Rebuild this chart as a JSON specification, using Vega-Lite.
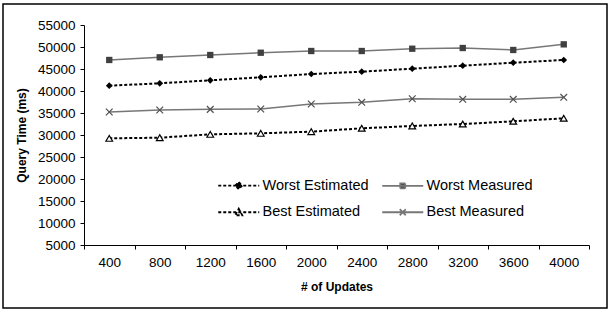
{
  "$schema": "https://vega.github.io/schema/vega-lite/v6.json",
  "width": 604,
  "height": 304,
  "autosize": {"type": "none"},
  "padding": {"left": 3, "top": 4, "right": 2, "bottom": 2},
  "background": "white",
  "config": {
    "view": {"stroke": "black", "strokeWidth": 1.5},
    "font": "Liberation Sans",
    "axis": {"grid": false, "domainColor": "#000", "tickColor": "#000", "labelColor": "#000", "titleColor": "#000", "tickSize": 4, "labelFontSize": 13.5, "titleFontSize": 12, "titleFontWeight": "bold", "labelFont": "Liberation Sans", "titleFont": "Liberation Sans"}
  },
  "data": {"values": [
    {"updates": "400", "series": "Worst Estimated", "time": 41200},
    {"updates": "800", "series": "Worst Estimated", "time": 41750},
    {"updates": "1200", "series": "Worst Estimated", "time": 42430},
    {"updates": "1600", "series": "Worst Estimated", "time": 43110},
    {"updates": "2000", "series": "Worst Estimated", "time": 43860},
    {"updates": "2400", "series": "Worst Estimated", "time": 44390},
    {"updates": "2800", "series": "Worst Estimated", "time": 45070},
    {"updates": "3200", "series": "Worst Estimated", "time": 45750},
    {"updates": "3600", "series": "Worst Estimated", "time": 46430},
    {"updates": "4000", "series": "Worst Estimated", "time": 47050},
    {"updates": "400", "series": "Worst Measured", "time": 47050},
    {"updates": "800", "series": "Worst Measured", "time": 47660},
    {"updates": "1200", "series": "Worst Measured", "time": 48180},
    {"updates": "1600", "series": "Worst Measured", "time": 48700},
    {"updates": "2000", "series": "Worst Measured", "time": 49090},
    {"updates": "2400", "series": "Worst Measured", "time": 49090},
    {"updates": "2800", "series": "Worst Measured", "time": 49610},
    {"updates": "3200", "series": "Worst Measured", "time": 49770},
    {"updates": "3600", "series": "Worst Measured", "time": 49320},
    {"updates": "4000", "series": "Worst Measured", "time": 50600},
    {"updates": "400", "series": "Best Estimated", "time": 29240},
    {"updates": "800", "series": "Best Estimated", "time": 29390},
    {"updates": "1200", "series": "Best Estimated", "time": 30150},
    {"updates": "1600", "series": "Best Estimated", "time": 30380},
    {"updates": "2000", "series": "Best Estimated", "time": 30760},
    {"updates": "2400", "series": "Best Estimated", "time": 31520},
    {"updates": "2800", "series": "Best Estimated", "time": 32050},
    {"updates": "3200", "series": "Best Estimated", "time": 32500},
    {"updates": "3600", "series": "Best Estimated", "time": 33110},
    {"updates": "4000", "series": "Best Estimated", "time": 33800},
    {"updates": "400", "series": "Best Measured", "time": 35230},
    {"updates": "800", "series": "Best Measured", "time": 35680},
    {"updates": "1200", "series": "Best Measured", "time": 35830},
    {"updates": "1600", "series": "Best Measured", "time": 35910},
    {"updates": "2000", "series": "Best Measured", "time": 37050},
    {"updates": "2400", "series": "Best Measured", "time": 37430},
    {"updates": "2800", "series": "Best Measured", "time": 38250},
    {"updates": "3200", "series": "Best Measured", "time": 38110},
    {"updates": "3600", "series": "Best Measured", "time": 38110},
    {"updates": "4000", "series": "Best Measured", "time": 38560}
  ]},
  "encoding": {
    "x": {
      "field": "updates", "type": "ordinal",
      "sort": ["400", "800", "1200", "1600", "2000", "2400", "2800", "3200", "3600", "4000"],
      "bandPosition": 0.5,
      "scale": {"type": "band", "range": [81, 586], "paddingInner": 0, "paddingOuter": 0},
      "axis": {"title": "# of Updates", "orient": "bottom", "offset": -63, "tickBand": "extent", "labelAngle": 0, "labelPadding": 6, "titlePadding": 13}
    },
    "y": {
      "field": "time", "type": "quantitative",
      "scale": {"domain": [5000, 55000], "range": [241, 21], "nice": false, "zero": false},
      "axis": {"title": "Query Time (ms)", "orient": "left", "offset": -81, "values": [5000, 10000, 15000, 20000, 25000, 30000, 35000, 40000, 45000, 50000, 55000], "format": "d", "labelPadding": 5, "titlePadding": 9, "labelFlush": false, "labelOverlap": false}
    }
  },
  "layer": [
    {
      "transform": [{"filter": "indexof(datum.series, 'Estimated') >= 0"}],
      "mark": {"type": "line", "strokeDash": [3, 2], "strokeWidth": 2, "color": "#000000"},
      "encoding": {"detail": {"field": "series", "type": "nominal"}}
    },
    {
      "transform": [{"filter": "indexof(datum.series, 'Measured') >= 0"}],
      "mark": {"type": "line", "strokeWidth": 1.5, "color": "#777777"},
      "encoding": {"detail": {"field": "series", "type": "nominal"}}
    },
    {
      "transform": [{"filter": "datum.series == 'Worst Estimated'"}],
      "mark": {"type": "point", "shape": "diamond", "filled": true, "color": "#000000", "opacity": 1, "size": 45},
      "encoding": {}
    },
    {
      "transform": [{"filter": "datum.series == 'Worst Measured'"}],
      "mark": {"type": "point", "shape": "square", "filled": true, "color": "#404040", "opacity": 1, "size": 40},
      "encoding": {}
    },
    {
      "transform": [{"filter": "datum.series == 'Best Estimated'"}],
      "mark": {"type": "point", "shape": "triangle-up", "filled": false, "fill": "#ffffff", "stroke": "#000000", "strokeWidth": 1.2, "opacity": 1, "size": 45},
      "encoding": {}
    },
    {
      "transform": [{"filter": "datum.series == 'Best Measured'"}],
      "mark": {"type": "point", "shape": "M-1,-1L1,1M-1,1L1,-1", "filled": false, "stroke": "#505050", "strokeWidth": 1.2, "opacity": 1, "size": 45},
      "encoding": {}
    },
    {
      "transform": [{"filter": "datum.time < 0"}],
      "mark": {"type": "point", "opacity": 1, "strokeWidth": 1.8},
      "encoding": {
        "shape": {"field": "series", "type": "nominal",
          "scale": {"domain": ["Worst Estimated", "Worst Measured", "Best Estimated", "Best Measured"], "range": [
            "M-6,0H2.2M-1.9,-0.7L-1.2,0L-1.9,0.7L-2.6,0Z",
            "M-6,0H2.2M-2.4,-0.5H-1.4V0.5H-2.4Z",
            "M-6,0H2.2M-1.9,-0.7L-1.2,0.6H-2.6Z",
            "M-6,0H2.2M-2.5,-0.6L-1.3,0.6M-2.5,0.6L-1.3,-0.6"]},
          "legend": {
            "title": null, "orient": "none", "legendX": 238, "legendY": 174, "direction": "horizontal", "columns": 2, "padding": 0,
            "symbolSize": 100, "symbolStrokeWidth": 1.8, "symbolOpacity": 1, "labelFontSize": 14.5, "labelColor": "#000", "labelFont": "Liberation Sans", "labelOffset": 7, "rowPadding": 11, "columnPadding": 9
          }},
        "fill": {"field": "series", "type": "nominal",
          "scale": {"domain": ["Worst Estimated", "Worst Measured", "Best Estimated", "Best Measured"], "range": ["#000000", "#404040", "#ffffff", "transparent"]}},
        "stroke": {"field": "series", "type": "nominal",
          "scale": {"domain": ["Worst Estimated", "Worst Measured", "Best Estimated", "Best Measured"], "range": ["#000000", "#777777", "#000000", "#777777"]}},
        "strokeDash": {"field": "series", "type": "nominal",
          "scale": {"domain": ["Worst Estimated", "Worst Measured", "Best Estimated", "Best Measured"], "range": [[3, 2], [1, 0], [3, 2], [1, 0]]}}
      }
    }
  ]
}
